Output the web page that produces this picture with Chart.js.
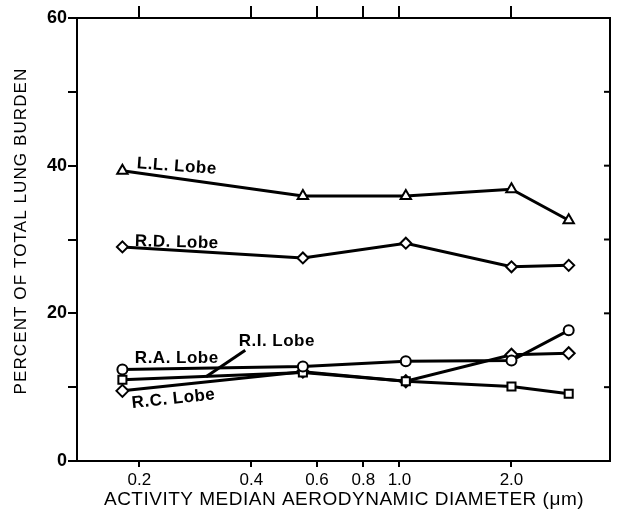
<!DOCTYPE html>
<html>
<head>
<meta charset="utf-8">
<script src="https://cdn.jsdelivr.net/npm/chart.js@4"></script>
<style>
  body { margin: 0; background: #fff; }
  #wrap { width: 618px; height: 511px; }
</style>
</head>
<body>
<div id="wrap"><canvas id="lung-chart" width="618" height="511"></canvas></div>
<script>
// Particle size (AMAD, um) for each measurement
const diameters = [0.18, 0.55, 1.04, 2.0, 2.85];

// Percent of total lung burden per lobe
const llLobe = [39.3, 35.9, 35.9, 36.8, 32.6];
const rdLobe = [29.0, 27.5, 29.5, 26.3, 26.5];
const raLobe = [12.4, 12.8, 13.5, 13.6, 17.7];
const riLobe = [11.0, 12.0, 10.8, 10.1, 9.1];
const rcLobe = [9.5, 12.1, 10.8, 14.4, 14.6];

// Tick values
const xTicks = [0.2, 0.4, 0.6, 0.8, 1.0, 2.0];
const yTicks = [0, 10, 20, 30, 40, 50, 60];

// Lobe names written next to the curves
const lobeNames = ['L.L. Lobe', 'R.D. Lobe', 'R.A. Lobe', 'R.I. Lobe', 'R.C. Lobe'];

const FONT = '"Liberation Sans", Arial, sans-serif';

// where the lobe names sit (in data units) and how they are tilted
const nameSpots = [
  { x: 0.252, y: 39.9, rot: 4 },
  { x: 0.252, y: 29.6, rot: 1.5 },
  { x: 0.252, y: 13.9, rot: 0 },
  { x: 0.468, y: 16.2, rot: 0 },
  { x: 0.247, y: 8.4, rot: -6 }
];
// pointer from the R.I. label down to its curve
const pointer = [{ x: 0.385, y: 15.0 }, { x: 0.302, y: 11.4 }];

function toPoints(values) {
  return diameters.map((d, i) => ({ x: d, y: values[i] }));
}

function lobeDataset(label, values, style, radius) {
  return {
    label: label,
    data: toPoints(values),
    borderColor: '#000',
    borderWidth: 3,
    pointStyle: style,
    pointRadius: radius,
    pointBorderWidth: 2,
    pointBackgroundColor: '#fff',
    pointBorderColor: '#000',
    tension: 0,
    fill: false
  };
}

// Extra drawing: inward ticks on the right, lobe names, axis titles
const annotationPlugin = {
  id: 'annotations',
  afterDraw(chart) {
    const { ctx, chartArea } = chart;
    const x = chart.scales.x;
    const y = chart.scales.y;
    ctx.save();
    ctx.strokeStyle = '#000';
    ctx.fillStyle = '#000';
    ctx.lineWidth = 2;

    // right axis ticks point inward
    yTicks.forEach(v => {
      if (v > 0 && v < 60) {
        const py = y.getPixelForValue(v);
        ctx.beginPath();
        ctx.moveTo(chartArea.right - 6, py);
        ctx.lineTo(chartArea.right, py);
        ctx.stroke();
      }
    });

    // lobe names
    ctx.font = 'bold 17px ' + FONT;
    ctx.letterSpacing = '0.5px';
    ctx.textAlign = 'center';
    ctx.textBaseline = 'middle';
    lobeNames.forEach((name, i) => {
      const s = nameSpots[i];
      ctx.save();
      ctx.translate(x.getPixelForValue(s.x), y.getPixelForValue(s.y));
      ctx.rotate(s.rot * Math.PI / 180);
      ctx.fillText(name, 0, 0);
      ctx.restore();
    });

    // R.I. pointer
    ctx.lineWidth = 3;
    ctx.beginPath();
    ctx.moveTo(x.getPixelForValue(pointer[0].x), y.getPixelForValue(pointer[0].y));
    ctx.lineTo(x.getPixelForValue(pointer[1].x), y.getPixelForValue(pointer[1].y));
    ctx.stroke();

    // y axis title
    ctx.font = '17px ' + FONT;
    ctx.letterSpacing = '1.1px';
    ctx.save();
    ctx.translate(21, 231);
    ctx.rotate(-Math.PI / 2);
    ctx.fillText('PERCENT OF TOTAL LUNG BURDEN', 0, 0);
    ctx.restore();

    // x axis title
    ctx.font = '19px ' + FONT;
    ctx.letterSpacing = '0.5px';
    ctx.fillText('ACTIVITY MEDIAN AERODYNAMIC DIAMETER (\u03bcm)', 344, 500);

    ctx.restore();
  }
};

const xMin = 0.1359;
const xMax = 3.68;

const ctx = document.getElementById('lung-chart').getContext('2d');
const lungChart = new Chart(ctx, {
  type: 'line',
  data: {
    datasets: [
      lobeDataset('L.L. Lobe', llLobe, 'triangle', 6),
      lobeDataset('R.D. Lobe', rdLobe, 'rectRot', 5.5),
      lobeDataset('R.A. Lobe', raLobe, 'circle', 5),
      lobeDataset('R.I. Lobe', riLobe, 'rect', 5.7),
      lobeDataset('R.C. Lobe', rcLobe, 'rectRot', 6)
    ]
  },
  options: {
    responsive: false,
    animation: false,
    devicePixelRatio: 1,
    layout: { padding: 0 },
    plugins: {
      legend: { display: false },
      tooltip: { enabled: false }
    },
    scales: {
      x: {
        type: 'logarithmic',
        position: 'bottom',
        min: xMin,
        max: xMax,
        afterBuildTicks: scale => { scale.ticks = xTicks.map(v => ({ value: v })); },
        afterFit: scale => { scale.height = 50; },
        ticks: {
          callback: value => Number(value).toFixed(1),
          color: '#000',
          font: { family: FONT, size: 17 },
          padding: 3,
          maxRotation: 0,
          autoSkip: false
        },
        grid: { drawOnChartArea: false, tickLength: 6, color: '#000', lineWidth: 2 },
        border: { color: '#000', width: 2 }
      },
      xTop: {
        type: 'logarithmic',
        position: 'top',
        min: xMin,
        max: xMax,
        afterBuildTicks: scale => { scale.ticks = xTicks.map(v => ({ value: v })); },
        afterFit: scale => { scale.height = 18; },
        ticks: { display: false },
        grid: { drawOnChartArea: false, tickLength: 12, color: '#000', lineWidth: 2 },
        border: { color: '#000', width: 2 }
      },
      y: {
        position: 'left',
        min: 0,
        max: 60,
        afterBuildTicks: scale => { scale.ticks = yTicks.map(v => ({ value: v })); },
        afterFit: scale => { scale.width = 77; },
        ticks: {
          callback: value => (value % 20 === 0 ? String(value) : ''),
          color: '#000',
          font: { family: FONT, size: 18, weight: 'bold' },
          padding: 1
        },
        grid: { drawOnChartArea: false, tickLength: 9, color: '#000', lineWidth: 2 },
        border: { color: '#000', width: 2 }
      },
      yRight: {
        position: 'right',
        min: 0,
        max: 60,
        afterFit: scale => { scale.width = 3; },
        ticks: { display: false },
        grid: { display: false },
        border: { color: '#000', width: 2 }
      }
    }
  },
  plugins: [annotationPlugin]
});
</script>
</body>
</html>
